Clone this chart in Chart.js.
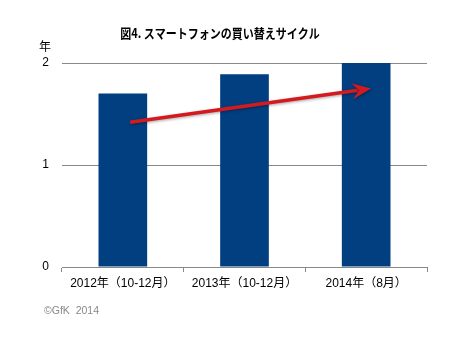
<!DOCTYPE html>
<html>
<head>
<meta charset="utf-8">
<script src="https://cdn.jsdelivr.net/npm/chart.js@4/dist/chart.umd.min.js"></script>
<style>
  body { margin: 0; background: #fff; }
  canvas { display: block; }
</style>
</head>
<body>
<canvas id="cycleChart" width="476" height="341"></canvas>
<script>
const categories = ['2012年（10-12月）', '2013年（10-12月）', '2014年（8月）'];
const years = [1.7, 1.89, 2.0];
const yTicks = [0, 1, 2];
// trend arrow, in data units: [category index, years]
const arrowFrom = [0.06, 1.42];
const arrowTo = [2.04, 1.75];

const titleText = '図4. スマートフォンの買い替えサイクル';
const unitText = '年';
const sourceText = '©GfK  2014';

// Title, unit label, source note and the red trend arrow
const extras = {
  id: 'extras',
  afterDraw(chart) {
    const ctx = chart.ctx;
    const x = chart.scales.x, y = chart.scales.y;
    ctx.save();

    // title is narrow and tall in the original, so squeeze it a little
    ctx.save();
    ctx.translate(220, 33);
    ctx.scale(1, 1.18);
    ctx.fillStyle = '#000';
    ctx.font = 'bold 11px "Noto Sans CJK JP"';
    ctx.textAlign = 'center';
    ctx.textBaseline = 'middle';
    ctx.fillText(titleText, 0, 0);
    ctx.restore();

    ctx.fillStyle = '#000';
    ctx.textAlign = 'center';
    ctx.textBaseline = 'middle';
    ctx.font = '12px "Noto Sans CJK JP"';
    ctx.fillText(unitText, 45, 46);

    ctx.fillStyle = '#888';
    ctx.font = '10.5px "Liberation Sans"';
    ctx.textAlign = 'left';
    ctx.fillText(sourceText, 44, 311);

    // arrow
    const x1 = x.getPixelForValue(arrowFrom[0]), y1 = y.getPixelForValue(arrowFrom[1]);
    const x2 = x.getPixelForValue(arrowTo[0]), y2 = y.getPixelForValue(arrowTo[1]);
    const ang = Math.atan2(y2 - y1, x2 - x1);
    const head = 17;
    const bx = x2 - head * Math.cos(ang), by = y2 - head * Math.sin(ang);
    ctx.shadowColor = 'rgba(0,0,0,0.35)';
    ctx.shadowBlur = 3;
    ctx.shadowOffsetX = 1;
    ctx.shadowOffsetY = 1;
    ctx.strokeStyle = '#d41a1f';
    ctx.fillStyle = '#d41a1f';
    ctx.lineWidth = 3.5;
    ctx.beginPath();
    ctx.moveTo(x1, y1);
    ctx.lineTo(bx + 4 * Math.cos(ang), by + 4 * Math.sin(ang));
    ctx.stroke();
    ctx.beginPath();
    ctx.moveTo(x2, y2);
    ctx.lineTo(bx - 8 * Math.sin(ang) - 2 * Math.cos(ang), by + 8 * Math.cos(ang) - 2 * Math.sin(ang));
    ctx.lineTo(bx + 5 * Math.cos(ang), by + 5 * Math.sin(ang));
    ctx.lineTo(bx + 8 * Math.sin(ang) - 2 * Math.cos(ang), by - 8 * Math.cos(ang) - 2 * Math.sin(ang));
    ctx.closePath();
    ctx.fill();
    ctx.restore();
  }
};

const ctx = document.getElementById('cycleChart').getContext('2d');
const cycleChart = new Chart(ctx, {
  type: 'bar',
  data: {
    labels: categories,
    datasets: [{
      data: years,
      backgroundColor: '#023f80',
      barPercentage: 0.4,
      categoryPercentage: 1
    }]
  },
  options: {
    responsive: false,
    animation: false,
    layout: { padding: { left: 0, right: 49, top: 63, bottom: 0 } },
    scales: {
      x: {
        grid: {
          drawOnChartArea: false,
          drawTicks: true,
          tickLength: 5,
          color: '#888'
        },
        border: { display: true, color: '#888' },
        ticks: {
          color: '#000',
          padding: 4,
          maxRotation: 0,
          font: { family: '"Liberation Sans", "Noto Sans CJK JP"', size: 12 }
        },
        afterFit: s => { s.height = 74; }
      },
      y: {
        min: 0,
        max: 2,
        afterBuildTicks: s => { s.ticks = yTicks.map(v => ({ value: v })); },
        grid: { color: '#888', drawTicks: false },
        border: { display: false },
        ticks: {
          color: '#000',
          padding: 13,
          font: { family: '"Liberation Sans"', size: 12 }
        },
        afterFit: s => { s.width = 62; }
      }
    },
    plugins: {
      legend: { display: false },
      tooltip: { enabled: false }
    }
  },
  plugins: [extras]
});
</script>
</body>
</html>
